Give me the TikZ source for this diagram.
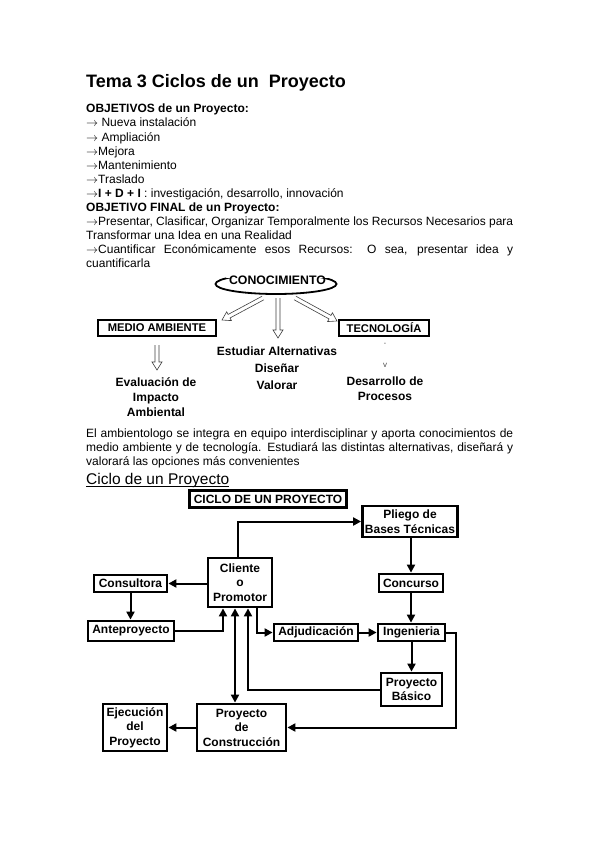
\documentclass[tikz,border=0pt]{standalone}
\usepackage{fontspec}
\setmainfont{Liberation Sans}
\usetikzlibrary{arrows.meta,shapes.geometric,calc}
\newcommand\jline[1]{\makebox[427pt][s]{#1}}
\newcommand\ar{{\fontsize{12}{12}\selectfont$\rightarrow$}}
\newcommand\hollowarr[2]{%
  \coordinate (hh) at ($(#2)!8pt!(#1)$);
  \draw[hollow] ($(#1)!2pt!90:(#2)$) -- ($(hh)!2pt!90:(#2)$) -- ($(hh)!5pt!90:(#2)$) -- (#2)
    -- ($(hh)!5pt!-90:(#2)$) -- ($(hh)!2pt!-90:(#2)$) -- ($(#1)!2pt!-90:(#2)$);}
\begin{document}
\begin{tikzpicture}[x=1pt,y=-1pt,
  txt/.style={anchor=base west, inner sep=0pt, font=\fontsize{12}{14}\selectfont},
  box/.style={draw, line width=2.8pt, inner sep=0pt, align=center, font=\fontsize{12}{14.5}\selectfont\bfseries},
  sbox/.style={draw, line width=2.3pt, inner sep=0pt, font=\fontsize{11.2}{13}\selectfont\bfseries},
  tipA/.tip={Triangle[length=8pt,width=8pt]},
  conn/.style={line width=2pt, -tipA},
  hollow/.style={line width=0.6pt, black!75},
  lbl/.style={inner sep=0pt, align=center, font=\fontsize{12}{15}\selectfont\bfseries}]
\fill[white] (0,0) rectangle (599,848);
\useasboundingbox (0,0) rectangle (599,848);

% ---------- text ----------
\node[txt, font=\fontsize{18}{20}\selectfont\bfseries] (title) at (86,88) {Tema 3 Ciclos de un\ \ Proyecto};
\node[txt] (l1) at (86,113) {\textbf{OBJETIVOS de un Proyecto:}};
\node[txt] (l2) at (86,127) {\ar{} Nueva instalación};
\node[txt] (l3) at (86,141) {\ar{} Ampliación};
\node[txt] (l4) at (86,155) {\ar Mejora};
\node[txt] (l5) at (86,169) {\ar Mantenimiento};
\node[txt] (l6) at (86,183) {\ar Traslado};
\node[txt] (l7) at (86,197) {\ar\textbf{I + D + I} : investigación, desarrollo, innovación};
\node[txt] (l8) at (86,211) {\textbf{OBJETIVO FINAL de un Proyecto:}};
\node[txt] (l9) at (86,225) {\jline{\ar Presentar, Clasificar, Organizar Temporalmente los Recursos Necesarios para}};
\node[txt] (l10) at (86,239) {Transformar una Idea en una Realidad};
\node[txt] (l11) at (86,253) {\jline{\ar Cuantificar Económicamente esos Recursos: O sea, presentar idea y}};
\node[txt] (l12) at (86,267) {cuantificarla};

\node[txt] (p1) at (86,437) {\jline{El ambientologo se integra en equipo interdisciplinar y aporta conocimientos de}};
\node[txt] (p2) at (86,451) {\jline{medio ambiente y de tecnología. Estudiará las distintas alternativas, diseñará y}};
\node[txt] (p3) at (86,465) {valorará las opciones más convenientes};
\node[txt, font=\fontsize{15.5}{17}\selectfont] (cip) at (86,484) {Ciclo de un Proyecto};
\draw[line width=1pt] ([yshift=-2.5pt]cip.base west) -- ([yshift=-2.5pt]cip.base east);

% ---------- diagram 1 ----------
\node[inner sep=0pt, font=\fontsize{12.3}{14}\selectfont\bfseries] (con) at (277.5,280.5) {CONOCIMIENTO};
\begin{scope}
  \clip (200,260) -- (226,260) -- (226,278) -- (328,278) -- (328,260) -- (360,260) -- (360,300) -- (200,300) -- cycle;
  \draw[line width=1.8pt] (276,284) ellipse [x radius=60.5pt, y radius=10pt];
\end{scope}
\node[sbox, minimum width=118pt, minimum height=16pt] (mab) at (157,328) {MEDIO AMBIENTE};
\node[sbox, minimum width=90pt, minimum height=16pt] (tec) at (384,328) {TECNOLOGÍA};

\coordinate (a1s) at (263,298); \coordinate (a1e) at (222,320);
\coordinate (a2s) at (278,298); \coordinate (a2e) at (278,338);
\coordinate (a3s) at (295,298); \coordinate (a3e) at (337,321);
\coordinate (a4s) at (157,345); \coordinate (a4e) at (157,370);
\hollowarr{a1s}{a1e}
\hollowarr{a2s}{a2e}
\hollowarr{a3s}{a3e}
\hollowarr{a4s}{a4e}

\node[lbl, font=\fontsize{12}{16.8}\selectfont\bfseries] (alt) at (277,368) {Estudiar Alternativas\\Diseñar\\Valorar};
\node[lbl] (eia) at (156,397) {Evaluación de\\Impacto\\Ambiental};
\node[lbl] (dp) at (385,389) {Desarrollo de\\Procesos};
\node[inner sep=0pt, font=\fontsize{7}{8}\selectfont, black!70] (m1) at (385,344) {-};
\node[inner sep=0pt, font=\fontsize{8}{9}\selectfont, black!70] (m2) at (385,365) {v};

% ---------- diagram 2 ----------
\node[box, minimum width=157pt, minimum height=16.5pt] (ciclo) at (268,499) {CICLO DE UN PROYECTO};
\node[box, minimum width=95pt, minimum height=31pt] (pli) at (410,521.5) {Pliego de\\Bases Técnicas};
\node[box, minimum width=64pt, minimum height=49pt] (cli) at (240,582.5) {Cliente\\o\\Promotor};
\node[box, minimum width=73pt, minimum height=17pt] (cons) at (130.5,583.5) {Consultora};
\node[box, minimum width=64pt, minimum height=18pt] (conc) at (411,583) {Concurso};
\node[box, minimum width=86pt, minimum height=20pt] (ante) at (131,631) {Anteproyecto};
\node[box, minimum width=84pt, minimum height=17pt] (adj) at (316,632.5) {Adjudicación};
\node[box, minimum width=67pt, minimum height=17pt] (ing) at (411.5,632.5) {Ingenieria};
\node[box, minimum width=61pt, minimum height=33pt] (pb) at (411.5,689.5) {Proyecto\\Básico};
\node[box, minimum width=64pt, minimum height=47pt] (eje) at (135,727.5) {Ejecución\\del\\Proyecto};
\node[box, minimum width=89pt, minimum height=47pt] (pc) at (241.5,727.5) {Proyecto\\de\\Construcción};

\draw[conn] ([xshift=-2pt]cli.north) |- (pli.west);
\draw[conn] (conc.north |- pli.south) -- (conc.north);
\draw[conn] (conc.south) -- (conc.south |- ing.north);
\draw[conn] (cli.west |- cons.east) -- (cons.east);
\draw[conn] (cons.south) -- (cons.south |- ante.north);
\draw[conn] (ante.east) -| ([xshift=-17pt]cli.south);
\draw[line width=2pt, tipA-tipA] ([xshift=-5pt]cli.south) -- ([xshift=-5pt]cli.south |- pc.north);
\draw[conn] (pb.west) -| ([xshift=8pt]cli.south);
\draw[conn] ([xshift=17pt]cli.south) |- (adj.west);
\draw[conn] (adj.east) -- (ing.west);
\draw[conn] (ing.south) -- (ing.south |- pb.north);
\coordinate (rt) at (456,632.5);
\draw[conn] (ing.east) -- (rt) |- (pc.east);
\draw[conn] (pc.west) -- (eje.east);
\end{tikzpicture}
\end{document}
